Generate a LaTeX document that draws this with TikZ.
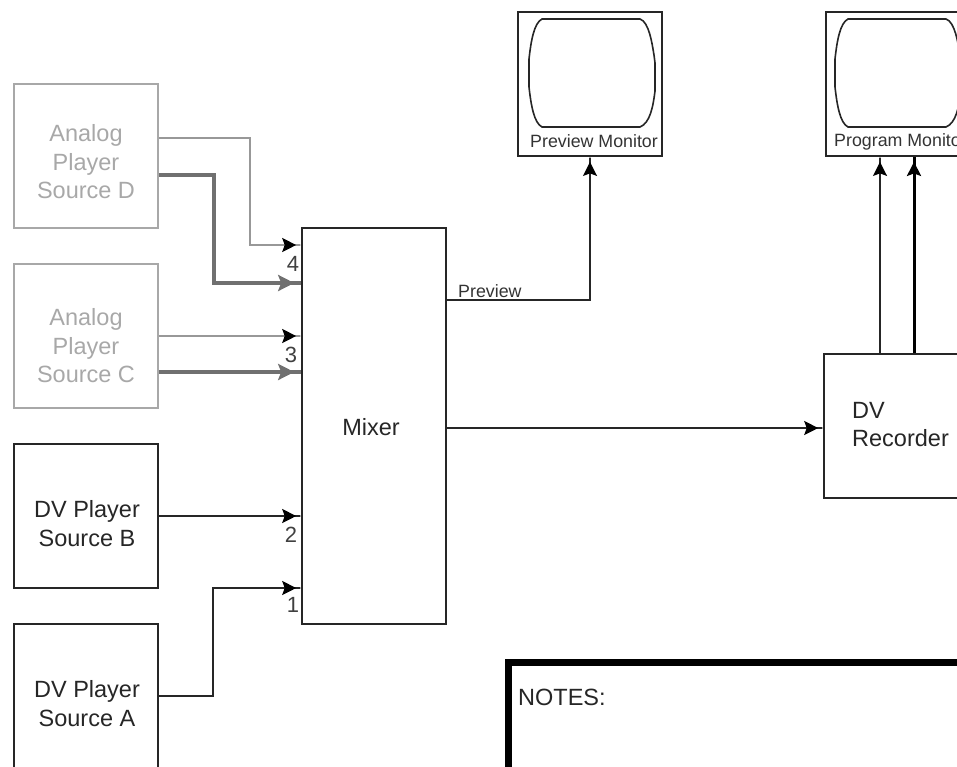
\documentclass[tikz,border=0pt]{standalone}
\usepackage{fontspec}
\setmainfont{Liberation Sans}
\usetikzlibrary{arrows.meta, positioning}
\definecolor{fadebox}{HTML}{A8A8A8}
\definecolor{fadeline}{HTML}{989898}
\definecolor{fadethick}{HTML}{707070}
\tikzset{
  unit/.style={draw=black!85, line width=1.6pt, minimum width=144pt, minimum height=144pt, inner sep=0pt},
  faded/.style={unit, draw=fadebox},
  unittext/.style={inner sep=0pt, align=center, font=\fontsize{23.5}{28.5}\selectfont, text=black!85},
  fadetext/.style={unittext, text=fadebox},
  monitor/.style={unit, line width=1.8pt},
  monlab/.style={inner sep=0pt, font=\fontsize{17.8}{20}\selectfont, text=black!80},
  portnum/.style={inner sep=0pt, font=\fontsize{22}{24}\selectfont, text=black!75},
  sig/.style={draw=black!85, line width=1.6pt, -{Stealth[length=14pt,width=14pt,inset=2.5pt,black] Rectangle[length=5pt,width=1.6pt]}},
  sigthick/.style={draw=black, line width=3pt, -{Stealth[length=14pt,width=14pt,inset=2.5pt] Rectangle[length=5pt,width=3pt]}},
  fadesig/.style={draw=fadeline, line width=1.6pt, -{Stealth[length=14pt,width=14pt,inset=2.5pt,black] Rectangle[length=5pt,width=1.6pt,fadeline]}},
  fadethk/.style={draw=fadethick, line width=3.6pt, -{Stealth[length=16pt,width=16pt,inset=3pt,fadethick] Rectangle[length=7pt,width=3.6pt,fadethick]}},
  crt/.pic={
    \draw[line width=1.6pt, black!85] (-50,-54) -- (48,-54) .. controls (57,-51) and (60,-30) .. (62,-18)
      -- (63,-10) -- (63,18) .. controls (61,34) and (58,50) .. (48,54) -- (-50,54)
      .. controls (-58,50) and (-61,32) .. (-63,14) -- (-63,-14) .. controls (-61,-32) and (-58,-50) .. (-50,-54) -- cycle;
  }
}
\begin{document}
\begin{tikzpicture}[x=1pt,y=-1pt]
  \useasboundingbox (0,0) rectangle (957,766);
  \node[faded] (srcD) at (86,156) {};
  \node[faded] (srcC) at (86,336) {};
  \node[unit] (srcB) at (86,516) {};
  \node[unit] (srcA) at (86,696) {};
  \node[unit, minimum height=396pt] (mixer) at (374,426) {};
  \node[unit] (rec) at (896,426) {};
  \node[monitor] (prev) at (590,84) {};
  \node[monitor] (prog) at (898,84) {};
  \node[fadetext] (srcDtxt) at (86,162) {Analog\\Player\\Source D};
  \node[fadetext] (srcCtxt) at (86,346) {Analog\\Player\\Source C};
  \node[unittext] (srcBtxt) at (87,523.5) {DV Player\\Source B};
  \node[unittext] (srcAtxt) at (87,703.5) {DV Player\\Source A};
  \node[unittext] (mixertxt) at (371,427) {Mixer};
  \node[unittext, align=left, anchor=west] (rectxt) at (852,424.5) {DV\\Recorder};
  \pic at (592,73) {crt};
  \pic at (898,73) {crt};
  \node[monlab] (prevlab) at (594,141) {Preview Monitor};
  \node[monlab] (proglab) at (900.5,142) {Program Monitor};
  % port numbers
  \foreach \num/\xpos/\ypos in {4/293/264, 3/291/355, 2/291/535, 1/293/605}
    \node[portnum] (port\num) at (\xpos,\ypos) {\num};
  \draw[fadesig] ([yshift=18pt]srcD.east) -- ++(91,0) |- ([yshift=181pt]mixer.west);
  \draw[fadethk] ([yshift=-19pt]srcD.east) -- ++(55,0) |- ([yshift=143pt]mixer.west);
  \draw[fadesig] (srcC.east) -- ([yshift=90pt]mixer.west);
  \draw[fadethk] ([yshift=-36pt]srcC.east) -- ([yshift=54pt]mixer.west);
  \draw[sig] (srcB.east) -- ([yshift=-90pt]mixer.west);
  \draw[sig] (srcA.east) -- ++(54,0) |- ([yshift=-162pt]mixer.west);
  \draw[sig] ([yshift=-2pt]mixer.east) -- ([yshift=-2pt]rec.west);
  \draw[sig] ([yshift=126pt]mixer.east) -| (prev.south);
  \node[monlab, anchor=south west] (prevtag) at (458,298) {Preview};
  \draw[sig] ([xshift=-16pt]rec.north) -- ([xshift=-18pt]prog.south);
  \draw[sigthick] ([xshift=18pt]rec.north) -- ([xshift=16pt]prog.south);
  \node[draw=black, line width=7pt, minimum width=600pt, minimum height=300pt,
    anchor=north west] (notes) at (505,659) {};
  \node[unittext, anchor=west] (notestext) at (518,697) {NOTES:};
\end{tikzpicture}
\end{document}
